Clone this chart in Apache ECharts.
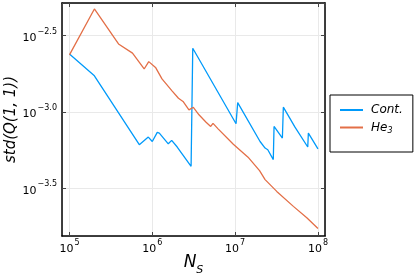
<!DOCTYPE html>
<html><head><meta charset="utf-8">
<script src="https://cdn.jsdelivr.net/npm/echarts@6/dist/echarts.min.js"></script>
<style>html,body{margin:0;padding:0;background:#fff}#c{width:415px;height:277px}</style>
</head><body><div id="c"></div>
<script>
// Data (actual values; plotted on log10 axes)
const contN = [1e5, 2.0e5, 6.97e5, 8.95e5, 1.0e6, 1.148e6, 1.216e6, 1.56e6, 1.714e6, 2.0e6, 2.94e6, 3.08e6, 1.026e7, 1.074e7, 2.0e7, 2.30e7, 2.48e7, 2.89e7, 2.95e7, 3.72e7, 3.82e7, 5.28e7, 7.53e7, 7.66e7, 1e8];
const contStd = [2.399e-3, 1.726e-3, 6.11e-4, 6.85e-4, 6.41e-4, 7.35e-4, 7.28e-4, 6.19e-4, 6.52e-4, 5.90e-4, 4.41e-4, 2.618e-3, 8.38e-4, 1.153e-3, 6.41e-4, 5.81e-4, 5.66e-4, 4.88e-4, 8.04e-4, 6.75e-4, 1.076e-3, 7.96e-4, 5.90e-4, 7.28e-4, 5.73e-4];
const he3N = [1e5, 2e5, 3.91e5, 5.77e5, 7.98e5, 9.06e5, 1.094e6, 1.309e6, 1.73e6, 2.07e6, 2.35e6, 2.77e6, 3.13e6, 3.66e6, 4.46e6, 5.07e6, 5.41e6, 6.27e6, 9.51e6, 1.432e7, 1.972e7, 2.30e7, 3.18e7, 5.05e7, 7.33e7, 1e8];
const he3Std = [2.366e-3, 4.73e-3, 2.79e-3, 2.43e-3, 1.914e-3, 2.138e-3, 1.959e-3, 1.648e-3, 1.377e-3, 1.230e-3, 1.172e-3, 1.033e-3, 1.074e-3, 9.59e-4, 8.57e-4, 8.04e-4, 8.43e-4, 7.73e-4, 6.15e-4, 5.06e-4, 4.13e-4, 3.61e-4, 3.02e-4, 2.41e-4, 2.03e-4, 1.726e-4];
const xTickExps = [5, 6, 7, 8];
const yTickExps = [-3.5, -3.0, -2.5];
const seriesNames = ['Cont.', 'He3'];

const FONT = 'DejaVu Sans';
const toLog = (xs, ys) => xs.map((x, i) => [Math.log10(x), Math.log10(ys[i])]);
const near = (v, arr) => arr.some(a => Math.abs(a - v) < 1e-6);
const supRich = {
  b: {fontSize: 11, fontFamily: FONT, color: '#000', verticalAlign: 'bottom', lineHeight: 16},
  s: {fontSize: 8, fontFamily: FONT, color: '#000', verticalAlign: 'top', lineHeight: 16, padding: [0, 0, 0, 1]}
};
const frameLine = {show: true, lineStyle: {color: '#000', width: 1.5}};
const tickIn = {show: true, inside: true, length: 4, lineStyle: {color: '#444', width: 1}};
const grid = {left: 62, right: 90, top: 3, bottom: 41, containLabel: false, outerBoundsMode: 'none'};
const xr = {min: 4.91, max: 8.085, splitNumber: 3};
const yr = {min: -3.812, max: -2.286, splitNumber: 3};

const chart = echarts.init(document.getElementById('c'), null, {renderer: 'canvas'});
chart.setOption({
  animation: false,
  backgroundColor: '#fff',
  grid: grid,
  legend: {
    orient: 'vertical', left: 330, top: 95,
    data: seriesNames.map(n => ({name: n, icon: 'rect'})),
    backgroundColor: '#fff',
    borderColor: '#000', borderWidth: 1, borderRadius: 0,
    padding: [9, 10, 17, 10],
    itemWidth: 23, itemHeight: 2, itemGap: 5.5,
    formatter: n => n === 'He3' ? '{i|He}{u|3}' : '{i|Cont.}',
    textStyle: {
      padding: [0, 0, 0, 3],
      rich: {
        i: {fontSize: 12, fontStyle: 'italic', fontFamily: FONT, color: '#000', lineHeight: 15},
        u: {fontSize: 8, fontStyle: 'italic', fontFamily: FONT, color: '#000', verticalAlign: 'bottom', lineHeight: 15, padding: [5, 0, 0, 0]}
      }
    }
  },
  xAxis: [{
    type: 'value', position: 'bottom', ...xr,
    name: '{n|N}{s|S}', nameLocation: 'middle', nameGap: 18, nameMoveOverlap: false,
    nameTextStyle: {rich: {
      n: {fontSize: 17, fontStyle: 'italic', fontFamily: FONT, color: '#000', verticalAlign: 'top', lineHeight: 22},
      s: {fontSize: 11, fontStyle: 'italic', fontFamily: FONT, color: '#000', verticalAlign: 'bottom', lineHeight: 22}
    }},
    axisLine: frameLine, axisTick: tickIn,
    axisLabel: {margin: 3, showMinLabel: false, showMaxLabel: false,
      formatter: v => near(v, xTickExps) ? '{b|10}{s|' + Math.round(v) + '}' : '', rich: supRich},
    splitLine: {show: true, lineStyle: {color: '#e9e9e9', width: 1}}
  }, {
    type: 'value', position: 'top', ...xr,
    axisLine: frameLine, axisTick: tickIn, axisLabel: {show: false}, splitLine: {show: false}
  }],
  yAxis: [{
    type: 'value', position: 'left', ...yr,
    name: 'std(Q(1, 1))', nameLocation: 'middle', nameGap: 43, nameMoveOverlap: false,
    nameTextStyle: {fontSize: 15, fontStyle: 'italic', fontFamily: FONT, color: '#000'},
    axisLine: frameLine, axisTick: tickIn,
    axisLabel: {margin: 5, showMinLabel: false, showMaxLabel: false,
      formatter: v => near(v, yTickExps) ? '{b|10}{s|\u2212' + Math.abs(v).toFixed(1) + '}' : '', rich: supRich},
    splitLine: {show: true, lineStyle: {color: '#e9e9e9', width: 1}}
  }, {
    type: 'value', position: 'right', ...yr,
    axisLine: frameLine, axisTick: tickIn, axisLabel: {show: false}, splitLine: {show: false}
  }],
  series: [{
    name: seriesNames[0], type: 'line', data: toLog(contN, contStd),
    symbol: 'none', lineStyle: {color: '#009AFA', width: 1.3}, itemStyle: {color: '#009AFA'}
  }, {
    name: seriesNames[1], type: 'line', data: toLog(he3N, he3Std),
    symbol: 'none', lineStyle: {color: '#E36F47', width: 1.3}, itemStyle: {color: '#E36F47'}
  }]
});
</script></body></html>
